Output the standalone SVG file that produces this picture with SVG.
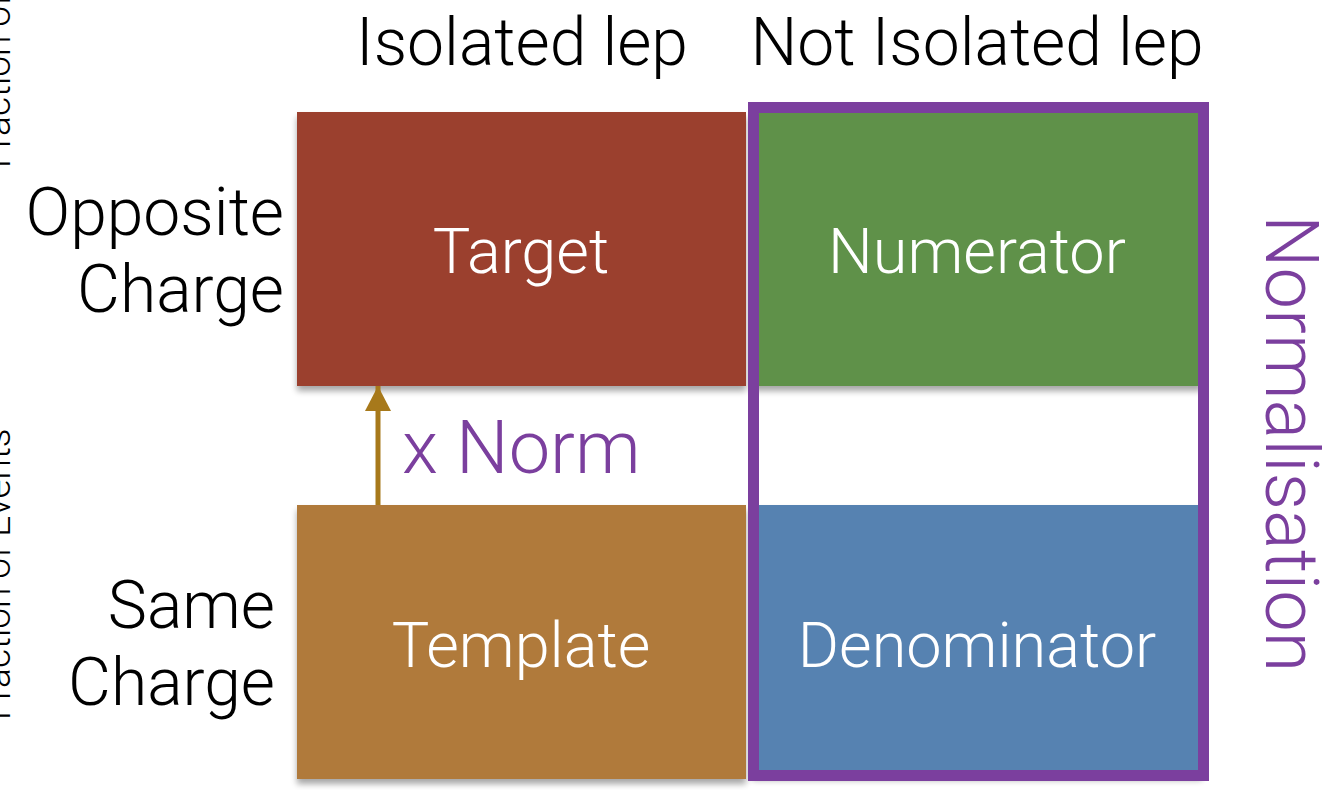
<svg xmlns="http://www.w3.org/2000/svg" width="1325" height="790" viewBox="0 0 1325 790">
<style>
text { font-family: Roboto, "Liberation Sans", sans-serif; font-weight: 300; }
.hdr { font-size: 66px; fill: #000; text-anchor: middle; }
.side { font-size: 66px; fill: #000; text-anchor: end; }
.lbl { font-size: 63px; fill: #fff; text-anchor: middle; }
.axis { font-size: 37px; fill: #000; }
.purple { fill: #7b3f9e; }
</style>
<defs>
<filter id="shadow" x="-5%" y="-5%" width="115%" height="120%">
<feGaussianBlur in="SourceAlpha" stdDeviation="3"/>
<feOffset dx="0" dy="5" result="b"/>
<feComponentTransfer><feFuncA type="linear" slope="0.35"/></feComponentTransfer>
<feMerge><feMergeNode/><feMergeNode in="SourceGraphic"/></feMerge>
</filter>
<marker id="arrow" markerWidth="26" markerHeight="26" refX="25" refY="13" orient="auto" markerUnits="userSpaceOnUse" viewBox="0 0 26 26">
<path d="M0,0 L25,13 L0,26 Z" fill="#a7791b"/>
</marker>
</defs>
<rect width="1325" height="790" fill="#fff"/>
<text class="axis" transform="translate(10,168) rotate(-90)">Fraction of</text>
<text class="axis" transform="translate(10,720) rotate(-90)">Fraction of Events</text>
<text class="hdr" x="522" y="65">Isolated lep</text>
<text class="hdr" x="977" y="65">Not Isolated lep</text>
<text class="side" x="284" y="235">Opposite</text>
<text class="side" x="284" y="312">Charge</text>
<text class="side" x="275" y="628">Same</text>
<text class="side" x="275" y="705">Charge</text>
<g id="target" filter="url(#shadow)">
<rect x="297" y="112" width="449" height="274" fill="#9b3f2f"/>
<text class="lbl" x="521" y="273">Target</text>
</g>
<g id="numerator" filter="url(#shadow)">
<rect x="752" y="112" width="450" height="274" fill="#5e9148"/>
<text class="lbl" x="977" y="273">Numerator</text>
</g>
<g id="template" filter="url(#shadow)">
<rect x="297" y="505" width="449" height="274" fill="#b07a3b"/>
<text class="lbl" x="521" y="667">Template</text>
</g>
<g id="denominator" filter="url(#shadow)">
<rect x="752" y="505" width="450" height="270" fill="#5682b1"/>
<text class="lbl" x="977" y="667">Denominator</text>
</g>
<g id="normalisation">
<rect x="753.5" y="107.5" width="450" height="668" fill="none" stroke="#7b3f9e" stroke-width="11"/>
<text class="purple" font-size="74" transform="translate(1266,215) rotate(90)">Normalisation</text>
</g>
<g id="connectors">
<line x1="378" y1="505" x2="378" y2="386" stroke="#a7791b" stroke-width="5" marker-end="url(#arrow)"/>
<text class="purple" x="402" y="473" font-size="74">x Norm</text>
</g>
</svg>
